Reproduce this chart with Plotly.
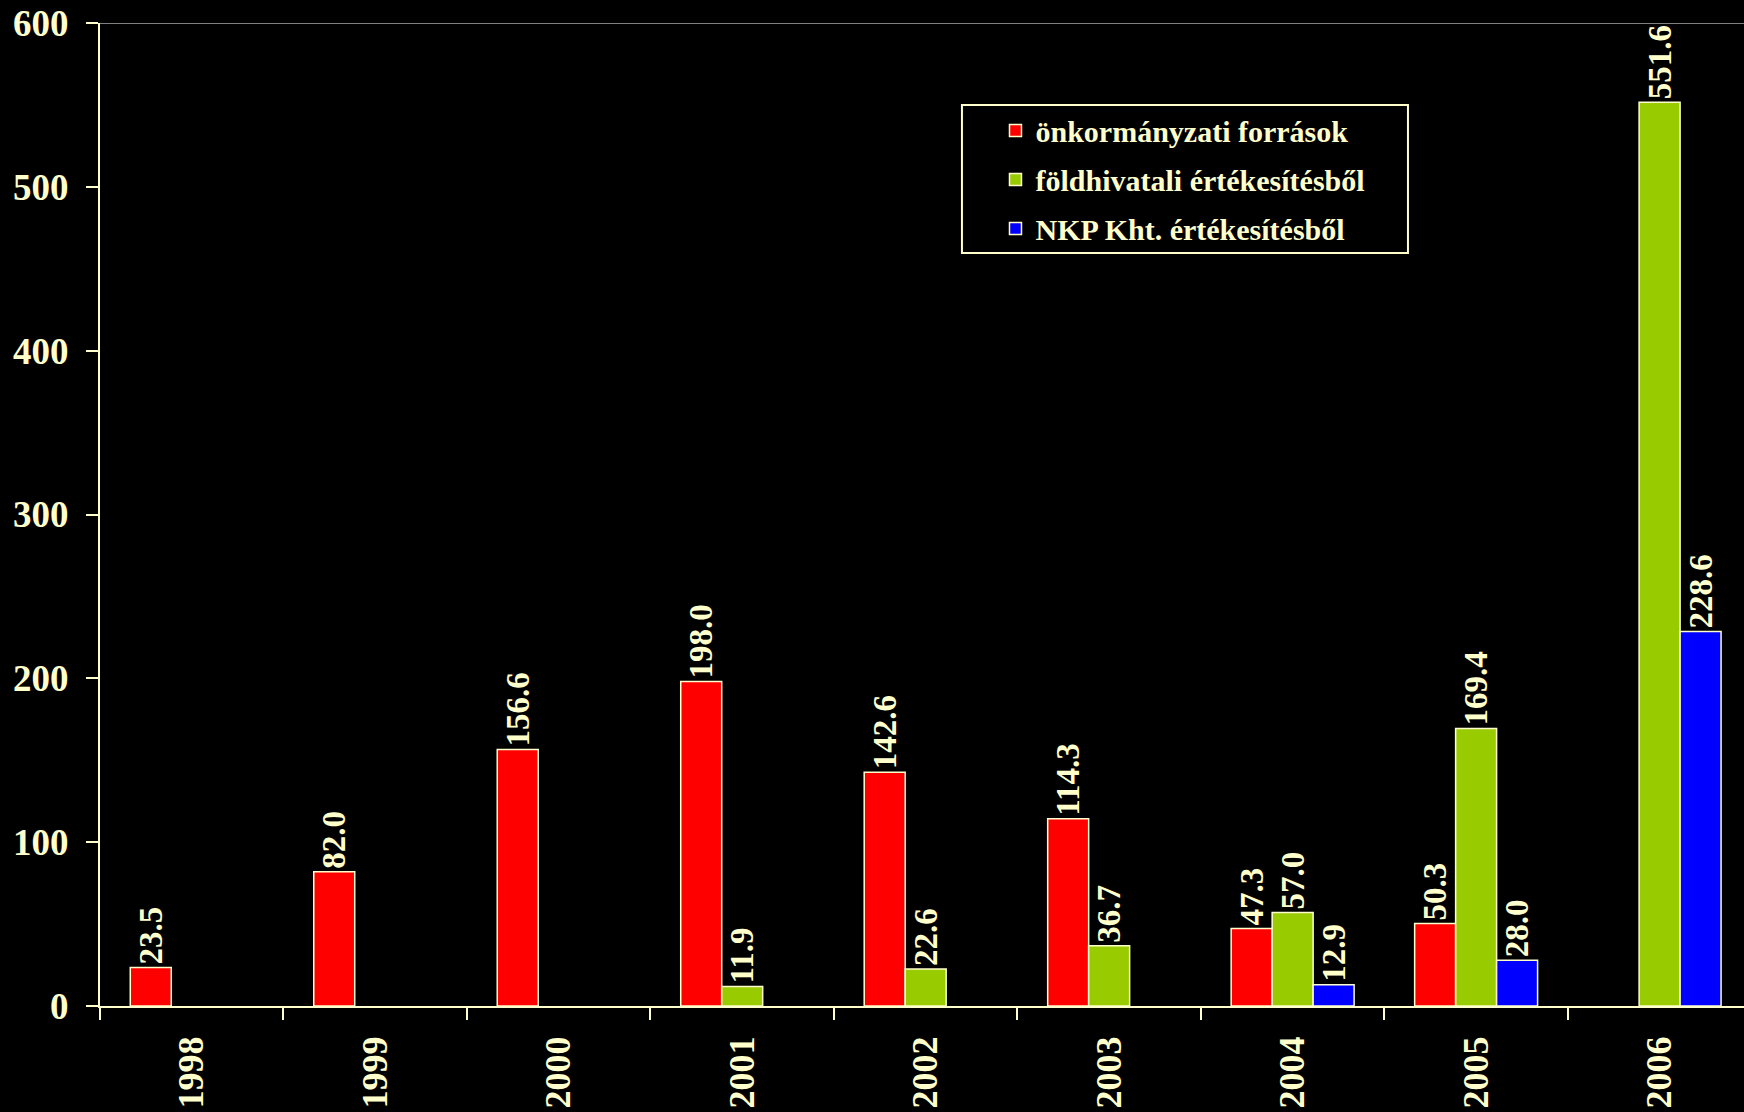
import plotly.graph_objects as go

years = ["1998", "1999", "2000", "2001", "2002", "2003", "2004", "2005", "2006"]
onkormanyzati = [23.5, 82.0, 156.6, 198.0, 142.6, 114.3, 47.3, 50.3, None]
foldhivatali = [None, None, None, 11.9, 22.6, 36.7, 57.0, 169.4, 551.6]
nkp = [None, None, None, None, None, None, 12.9, 28.0, 228.6]

series_names = ["önkormányzati források", "földhivatali értékesítésből", "NKP Kht. értékesítésből"]
series_values = [onkormanyzati, foldhivatali, nkp]
series_colors = ["#FF0000", "#99CC00", "#0000FF"]

CREAM = "#FFFFCC"
FONT = "Liberation Serif, Times New Roman, serif"

fig = go.Figure()
for i, (name, vals, col) in enumerate(zip(series_names, series_values, series_colors)):
    fig.add_trace(go.Bar(
        x=years, y=vals, name=name,
        marker=dict(color=col, line=dict(color=CREAM, width=1.5)),
        texttemplate="%{y:.1f}", textposition="outside", textangle=-90,
        constraintext="none",
        textfont=dict(family=FONT, size=33, color=CREAM, weight="bold"),
        cliponaxis=False, legendgroup=f"g{i}",
    ))

# thin grey frame line at the top of the plot area
fig.add_shape(type="line", xref="paper", yref="y", x0=0, x1=1, y0=600, y1=600,
              line=dict(color="#808080", width=2), layer="below")
# legend frame
fig.add_shape(type="rect", xref="paper", yref="paper",
              x0=0.5243, x1=0.7956, y0=0.766, y1=0.9166,
              line=dict(color=CREAM, width=2), fillcolor="black", layer="below")

fig.update_layout(
    width=1744, height=1112,
    paper_bgcolor="black", plot_bgcolor="black",
    margin=dict(l=100, r=0, t=23, b=106),
    barmode="group", bargap=0.33, bargroupgap=0,
    font=dict(family=FONT, color=CREAM, size=34, weight="bold"),
    showlegend=True,
    legend=dict(
        x=0.5447, y=0.917, xanchor="left", yanchor="top",
        bgcolor="rgba(0,0,0,0)", borderwidth=0,
        font=dict(family=FONT, size=30, color=CREAM, weight="bold"),
        traceorder="grouped", tracegroupgap=7,
    ),
)
fig.update_xaxes(
    type="category", tickangle=-90, tickson="boundaries",
    range=[-0.5, 8.46],
    ticks="outside", ticklen=12, tickwidth=2, tickcolor=CREAM,
    showline=True, linecolor=CREAM, linewidth=2, showgrid=False,
    tickfont=dict(family=FONT, size=36, color=CREAM, weight="bold"),
    ticklabelstandoff=14,
)
fig.update_yaxes(
    range=[0, 600], dtick=100, ticks="outside", ticklen=12, tickwidth=2, tickcolor=CREAM,
    showline=True, linecolor=CREAM, linewidth=2, showgrid=False, zeroline=False,
    tickfont=dict(family=FONT, size=37, color=CREAM, weight="bold"),
    ticklabelstandoff=10,
)

fig.write_html("out.html", config={"displayModeBar": False},
               post_script="document.body.style.margin='0';document.body.style.background='black';")
